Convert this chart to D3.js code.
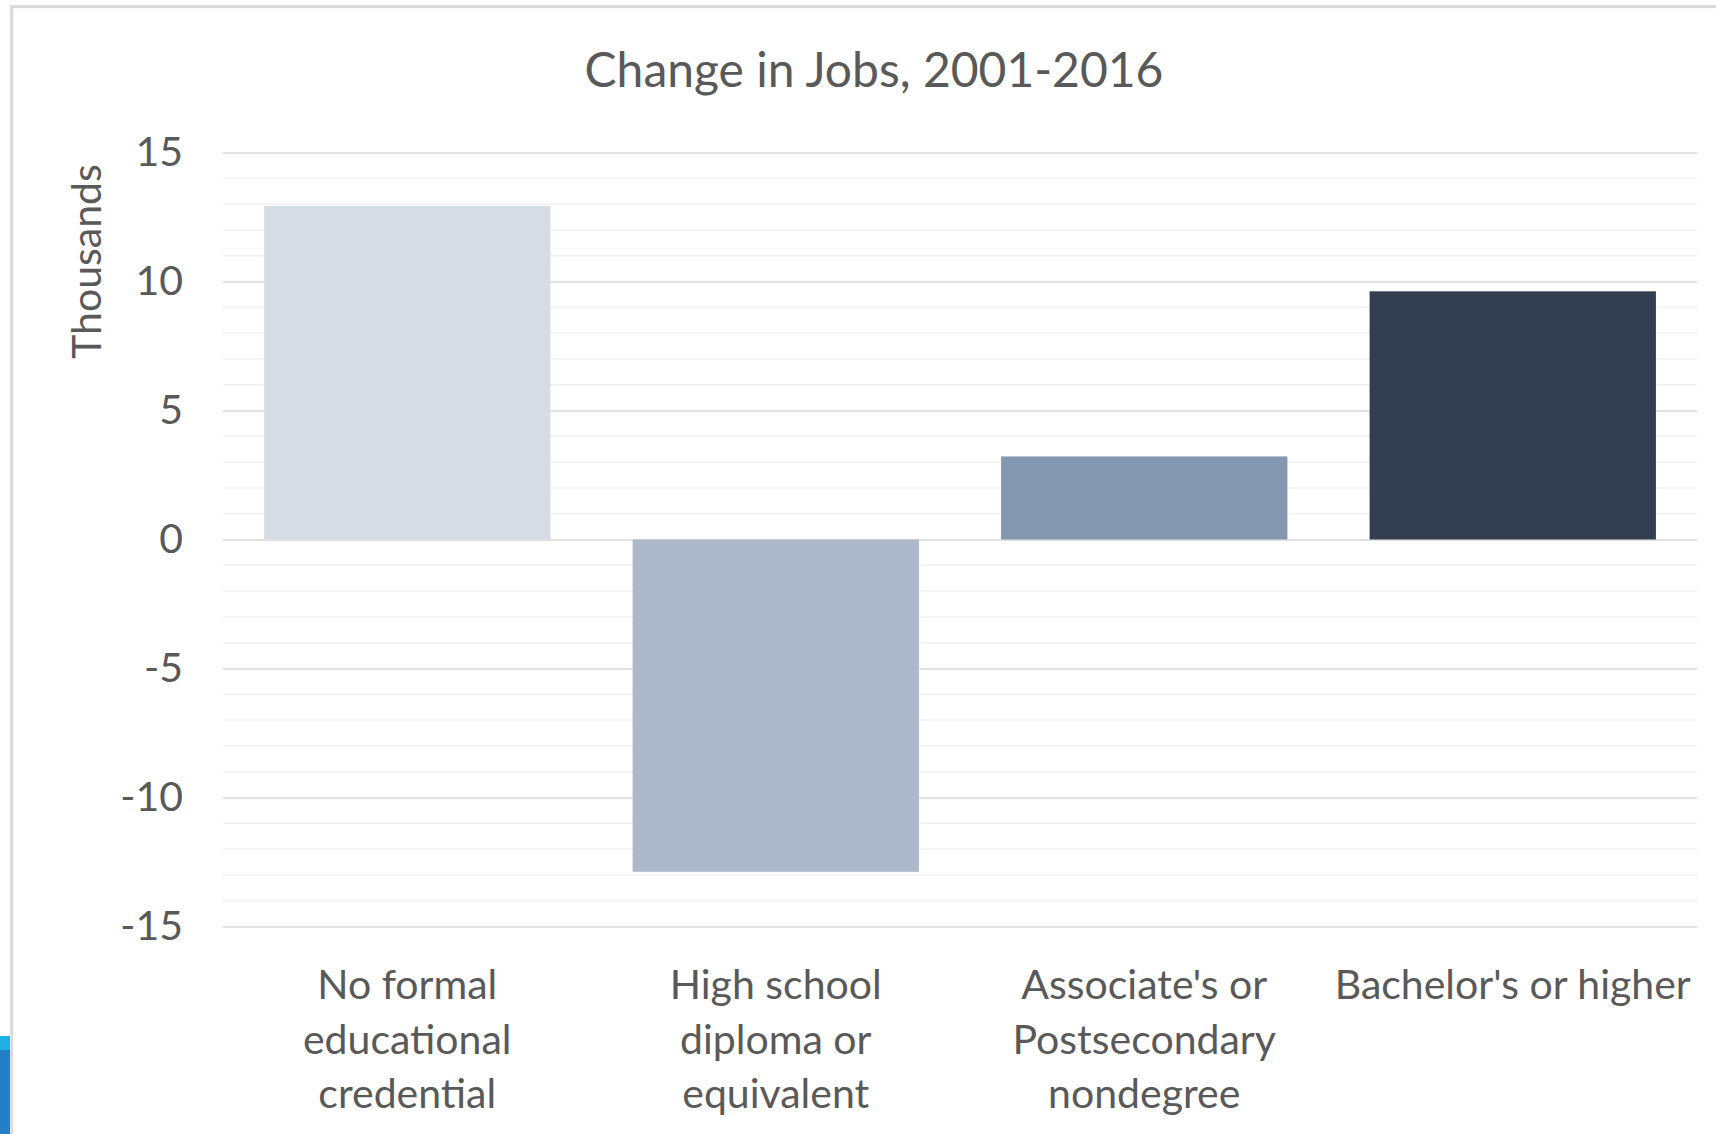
<!DOCTYPE html>
<html>
<head>
<meta charset="utf-8">
<script src="https://cdn.jsdelivr.net/npm/d3@7"></script>
<style>
  html, body { margin: 0; padding: 0; background: #fff; }
  svg { display: block; }
  text { font-family: Lato, "Open Sans", sans-serif; fill: #595959; }
</style>
</head>
<body>
<svg id="chart" width="1716" height="1134"></svg>
<script>
// ---- data ----
const categories = [
  "No formal educational credential",
  "High school diploma or equivalent",
  "Associate's or Postsecondary nondegree",
  "Bachelor's or higher"
];
const categoryLines = [
  ["No formal", "educational", "credential"],
  ["High school", "diploma or", "equivalent"],
  ["Associate's or", "Postsecondary", "nondegree"],
  ["Bachelor's or higher"]
];
const values = [12.93, -12.88, 3.22, 9.62]; // thousands
const barColors = ["#D6DCE5", "#ADB9CA", "#8497B0", "#333F50"];
const yMajorTicks = [-15, -10, -5, 0, 5, 10, 15];
const yMinorTicks = d3.range(-15, 16, 1);
const title = "Change in Jobs, 2001-2016";
const yTitle = "Thousands";

// ---- layout ----
const svg = d3.select("#chart");
const plot = { left: 223, right: 1697, top: 152.5, bottom: 926.5 };

// frame border + decoration
svg.append("rect").attr("x", 0).attr("y", 1036).attr("width", 10).attr("height", 14).attr("fill", "#1fb0e6");
svg.append("rect").attr("x", 0).attr("y", 1050).attr("width", 10).attr("height", 84).attr("fill", "#2480c6");
svg.append("rect").attr("x", 11.7).attr("y", 6.7).attr("width", 1800).attr("height", 1300)
  .attr("fill", "none").attr("stroke", "#d9d9d9").attr("stroke-width", 3);

const x = d3.scaleBand().domain(categories).range([plot.left, plot.right])
  .paddingInner(0.223).paddingOuter(0.1115);
const y = d3.scaleLinear().domain([-15, 15]).range([plot.bottom, plot.top]);

// minor gridlines
svg.append("g").selectAll("line").data(yMinorTicks.filter(d => d % 5 !== 0)).join("line")
  .attr("x1", plot.left).attr("x2", plot.right)
  .attr("y1", d => y(d)).attr("y2", d => y(d))
  .attr("stroke", "#f0f0f0").attr("stroke-width", 1.5);

// major gridlines + labels via axis
const yAxis = d3.axisLeft(y).tickValues(yMajorTicks).tickSize(-(plot.right - plot.left))
  .tickPadding(40).tickFormat(d => String(d));
const gy = svg.append("g").attr("transform", `translate(${plot.left},0)`).call(yAxis);
gy.select(".domain").remove();
gy.selectAll(".tick line").attr("stroke", "#d9d9d9").attr("stroke-width", 1.5);
gy.selectAll(".tick text").attr("font-size", 41).attr("fill", "#595959")
  .attr("font-family", "Lato, sans-serif").attr("dy", "0.31em");

// bars
svg.append("g").selectAll("rect").data(values).join("rect")
  .attr("x", (d, i) => x(categories[i]))
  .attr("width", x.bandwidth())
  .attr("y", d => y(Math.max(0, d)))
  .attr("height", d => Math.abs(y(d) - y(0)))
  .attr("fill", (d, i) => barColors[i]);

// x labels
const gx = svg.append("g");
categories.forEach((c, i) => {
  const t = gx.append("text")
    .attr("text-anchor", "middle")
    .attr("font-size", 41)
    .attr("x", x(c) + x.bandwidth() / 2)
    .attr("y", 999);
  categoryLines[i].forEach((ln, j) => {
    t.append("tspan").attr("x", x(c) + x.bandwidth() / 2).attr("dy", j === 0 ? 0 : 54.7).text(ln);
  });
});

// title
svg.append("text").attr("x", 874).attr("y", 87).attr("text-anchor", "middle")
  .attr("font-size", 48).text(title);

// y title
svg.append("text").attr("transform", "translate(101,261.5) rotate(-90)")
  .attr("text-anchor", "middle").attr("font-size", 41).text(yTitle);
</script>
</body>
</html>
